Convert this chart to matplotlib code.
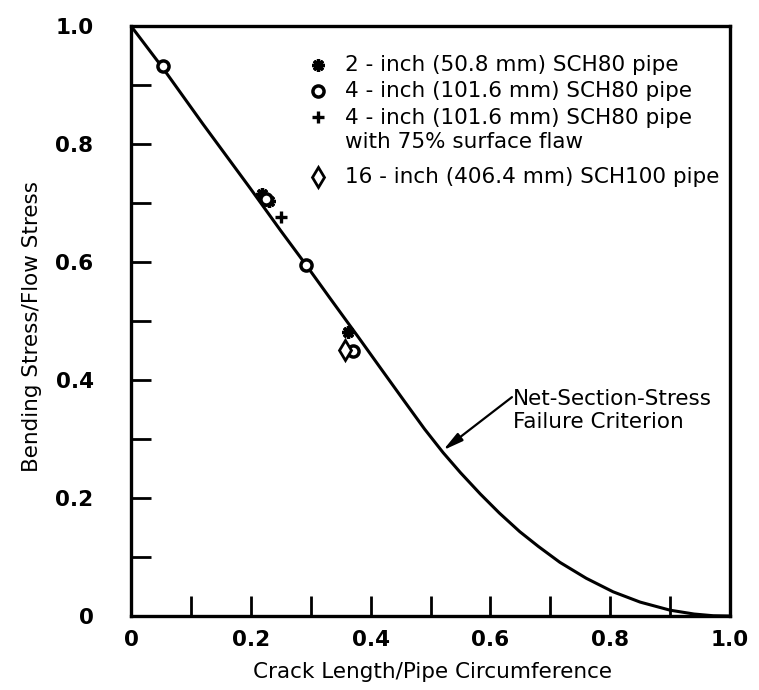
import matplotlib
matplotlib.use("Agg")
import matplotlib.pyplot as plt
from matplotlib.ticker import MultipleLocator, FixedLocator

curve_x = [0.0, 0.053, 0.120, 0.199, 0.250, 0.293, 0.332, 0.380, 0.416,
           0.455, 0.490, 0.521, 0.550, 0.583, 0.615, 0.649, 0.680, 0.716,
           0.760, 0.805, 0.850, 0.900, 0.940, 0.972, 1.0]
curve_y = [1.0, 0.929, 0.834, 0.725, 0.653, 0.594, 0.539, 0.472, 0.421,
           0.366, 0.317, 0.277, 0.243, 0.207, 0.1745, 0.143, 0.118, 0.091,
           0.064, 0.041, 0.0236, 0.0099, 0.0034, 0.0005, 0.0]

# test results
pipe2_x = [0.219, 0.230, 0.362]
pipe2_y = [0.715, 0.703, 0.481]
pipe4_x = [0.053, 0.226, 0.292, 0.371]
pipe4_y = [0.932, 0.707, 0.595, 0.449]
flaw4_x = [0.250]
flaw4_y = [0.676]
pipe16_x = [0.357]
pipe16_y = [0.451]

x_ticks = [0, 0.2, 0.4, 0.6, 0.8, 1.0]
x_ticklabels = ["0", "0.2", "0.4", "0.6", "0.8", "1.0"]
y_ticks = [0, 0.2, 0.4, 0.6, 0.8, 1.0]
y_ticklabels = ["0", "0.2", "0.4", "0.6", "0.8", "1.0"]

legend_labels = [
    "2 - inch (50.8 mm) SCH80 pipe",
    "4 - inch (101.6 mm) SCH80 pipe",
    "4 - inch (101.6 mm) SCH80 pipe\nwith 75% surface flaw",
    "16 - inch (406.4 mm) SCH100 pipe",
]

star = (8, 2, 0)
styles = [
    dict(marker=star, ms=9, mew=2.4, mfc="k", mec="k"),
    dict(marker="o", ms=8, mew=2.5, mfc="white", mec="k"),
    dict(marker="+", ms=9, mew=2.4, mfc="k", mec="k"),
    dict(marker="d", ms=10, mew=2.0, mfc="white", mec="k"),
]

fig = plt.figure(figsize=(7.59, 6.90), dpi=100)
ax = fig.add_axes([0.1726, 0.1072, 0.7892, 0.8551])

ax.plot(curve_x, curve_y, color="k", lw=2.2, zorder=2,
        solid_joinstyle="round")

series = [(pipe2_x, pipe2_y), (pipe4_x, pipe4_y), (flaw4_x, flaw4_y),
          (pipe16_x, pipe16_y)]
for (xs, ys), st in zip(series, styles):
    ax.plot(xs, ys, ls="none", zorder=3, **st)

ax.set_xlim(0, 1.0)
ax.set_ylim(0, 1.0)

for side in ["left", "right", "top", "bottom"]:
    ax.spines[side].set_linewidth(2.4)

ax.xaxis.set_major_locator(FixedLocator(x_ticks))
ax.yaxis.set_major_locator(FixedLocator(y_ticks))
ax.xaxis.set_minor_locator(MultipleLocator(0.1))
ax.yaxis.set_minor_locator(MultipleLocator(0.1))
ax.set_xticklabels(x_ticklabels, fontsize=15.5, fontweight="bold")
ax.set_yticklabels(y_ticklabels, fontsize=15.5, fontweight="bold")
ax.tick_params(which="both", direction="in", length=14.5, width=2.0,
               top=False, right=False)
ax.tick_params(axis="x", which="major", pad=10)
ax.tick_params(axis="y", which="major", pad=27)

ax.set_xlabel("Crack Length/Pipe Circumference", fontsize=15.5, va="center")
ax.set_ylabel("Bending Stress/Flow Stress", fontsize=15.5, va="center")
ax.xaxis.set_label_coords(0.504, -0.095)
ax.yaxis.set_label_coords(-0.165, 0.49)

# legend keys and text
rows = [0.934, 0.890, 0.846, 0.744]
for label, st, yr in zip(legend_labels, styles, rows):
    ax.plot([0.312], [yr], transform=ax.transAxes, ls="none", clip_on=False, **st)
    nlines = label.count("\n") + 1
    ax.text(0.357, yr - (nlines - 1) * 0.0229, label, transform=ax.transAxes,
            fontsize=15.5, ha="left", va="center", linespacing=1.25)

ax.text(0.638, 0.349, "Net-Section-Stress\nFailure Criterion",
        transform=ax.transAxes, fontsize=15.5, ha="left", va="center",
        linespacing=1.2)
ax.annotate("", xy=(0.521, 0.281), xycoords="data",
            xytext=(0.636, 0.371), textcoords="axes fraction",
            arrowprops=dict(arrowstyle="-|>,head_length=0.6,head_width=0.14",
                            color="k", lw=1.6, mutation_scale=20,
                            shrinkA=0, shrinkB=0))

fig.savefig("out.png", dpi=100)
